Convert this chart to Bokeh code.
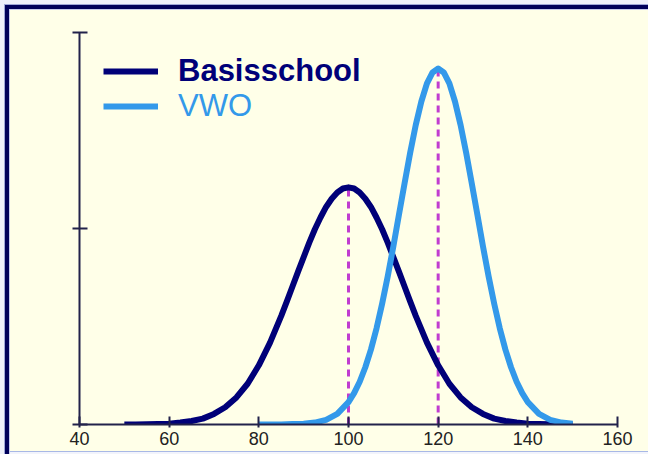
from bokeh.plotting import figure
from bokeh.models import Range1d, FixedTicker, Legend, LegendItem, CustomLabelingPolicy
from bokeh.embed import file_html
from bokeh.resources import INLINE

# ---- data (y in % of the axis height) ----
basis_x = [50, 52.5, 55, 57.5, 60, 62.5, 65, 67.5, 70, 72.5, 75, 77.5, 80, 82.5,
           85, 86.25, 87.5, 88.75, 90, 91.25, 92.5, 93.75, 95, 96.25, 97.5, 98.75,
           100, 101.25, 102.5, 103.75, 105, 106.25, 107.5, 108.75, 110, 111.25, 112.5, 113.75, 115,
           117.5, 120, 122.5, 125, 127.5, 130, 132.5, 135, 137.5, 140, 142.5, 145, 147.5, 150]
basis_y = [0.0, 0.0, 0.05, 0.1, 0.2, 0.5, 0.9, 1.5, 2.7, 4.4, 6.9, 10.4, 15.1, 20.9,
           27.7, 31.4, 35.2, 39.0, 42.7, 46.4, 49.8, 52.8, 55.5, 57.6, 59.2, 60.2,
           60.5, 60.2, 59.2, 57.6, 55.5, 52.8, 49.8, 46.4, 42.7, 39.0, 35.2, 31.4, 27.7,
           20.9, 15.1, 10.4, 6.9, 4.4, 2.7, 1.5, 0.9, 0.5, 0.2, 0.1, 0.05, 0.0, 0.0]
vwo_x = [80, 82.5, 85, 87.5, 90, 92.5, 95, 97.5, 100,
         101.25, 102.5, 103.75, 105, 106.25, 107.5, 108.75, 110, 111.25, 112.5, 113.75, 115, 116.25, 117.5, 118.75,
         120, 121.25, 122.5, 123.75, 125, 126.25, 127.5, 128.75, 130, 131.25, 132.5, 133.75, 135, 136.25, 137.5, 138.75,
         140, 142.5, 145, 147.5, 150]
vwo_y = [0.0, 0.0, 0.0, 0.1, 0.2, 0.5, 1.2, 2.7, 5.7,
         8.0, 10.9, 14.6, 19.1, 24.5, 30.8, 37.8, 45.4, 53.5, 61.5, 69.3, 76.4, 82.4, 87.0, 89.8,
         90.8, 89.8, 87.0, 82.4, 76.4, 69.3, 61.5, 53.5, 45.4, 37.8, 30.8, 24.5, 19.1, 14.6, 10.9, 8.0,
         5.7, 2.7, 1.2, 0.5, 0.2]
means = [100, 120]
peaks = [60.5, 90.8]
x_ticks = [40, 60, 80, 100, 120, 140, 160]
y_ticks = [0, 50, 100]
names = ["Basisschool", "VWO"]

NAVY = "#000078"
LIGHT = "#3399EA"
MAGENTA = "#C03CD0"
CREAM = "#FFFFE8"
AXIS = "#22224A"

p = figure(width=648, height=454, output_backend="svg", toolbar_location=None,
           x_range=Range1d(40, 160), y_range=Range1d(0, 100),
           min_border_left=79, min_border_right=31, min_border_top=32, min_border_bottom=30)
p.background_fill_color = CREAM
p.border_fill_color = None
p.outline_line_color = None
p.grid.visible = False
# page frame: dark band along the top and left, thin light line at the bottom
p.styles = {
    "background-color": CREAM,
    "box-shadow": ("inset 4px 4px 0 0 #EEF0FA, inset 5px 5px 0 0 #9EA6D6, "
                   "inset 9px 9px 0 0 #00005A, inset 10px 10px 0 0 #C6CAEA, "
                   "inset 0 -2px 0 0 #F2F4FC, inset 0 -3px 0 0 #A8B8E6"),
}

# axes
p.xaxis.ticker = FixedTicker(ticks=x_ticks)
p.yaxis.ticker = FixedTicker(ticks=y_ticks)
p.xaxis.minor_tick_line_color = None
p.yaxis.minor_tick_line_color = None
for ax in (p.xaxis, p.yaxis):
    ax.axis_line_color = AXIS
    ax.axis_line_width = 2
    ax.major_tick_line_color = AXIS
    ax.major_tick_line_width = 2
p.xaxis.major_tick_in = 8
p.xaxis.major_tick_out = 3
p.xaxis.major_label_standoff = 4
p.xaxis.major_label_text_font = "Liberation Sans"
p.xaxis.major_label_text_font_size = "18px"
p.xaxis.major_label_text_color = "#222222"
p.yaxis.major_tick_in = 8
p.yaxis.major_tick_out = 7
p.yaxis.major_label_standoff = 0
p.yaxis.major_label_policy = CustomLabelingPolicy(code="""
    for (const i of Array.from(indices)) {
        if (typeof indices.unset === 'function') indices.unset(i)
    }
    return indices
""")

# dashed mean lines
p.segment(x0=means, y0=[0, 0], x1=means, y1=peaks, line_color=MAGENTA, line_width=3, line_dash="7 5")

# curves
r1 = p.line(basis_x, basis_y, line_color=NAVY, line_width=6, line_join="round")
r2 = p.line(vwo_x, vwo_y, line_color=LIGHT, line_width=6, line_join="round")

# legends (two, so each label gets its own colour)
leg1 = Legend(items=[LegendItem(label=names[0], renderers=[r1])], location=(24, 335),
              label_text_font="Liberation Sans", label_text_font_style="bold",
              label_text_font_size="31px", label_text_color=NAVY)
leg2 = Legend(items=[LegendItem(label=names[1], renderers=[r2])], location=(24, 300),
              label_text_font="Liberation Sans", label_text_font_style="normal",
              label_text_font_size="31px", label_text_color=LIGHT)
for lg in (leg1, leg2):
    lg.glyph_width = 55
    lg.glyph_height = 20
    lg.label_standoff = 20
    lg.padding = 0
    lg.margin = 0
    lg.border_line_color = None
    lg.background_fill_alpha = 0
    lg.spacing = 0
    p.add_layout(lg)

open("out.html", "w").write(file_html(p, INLINE))
